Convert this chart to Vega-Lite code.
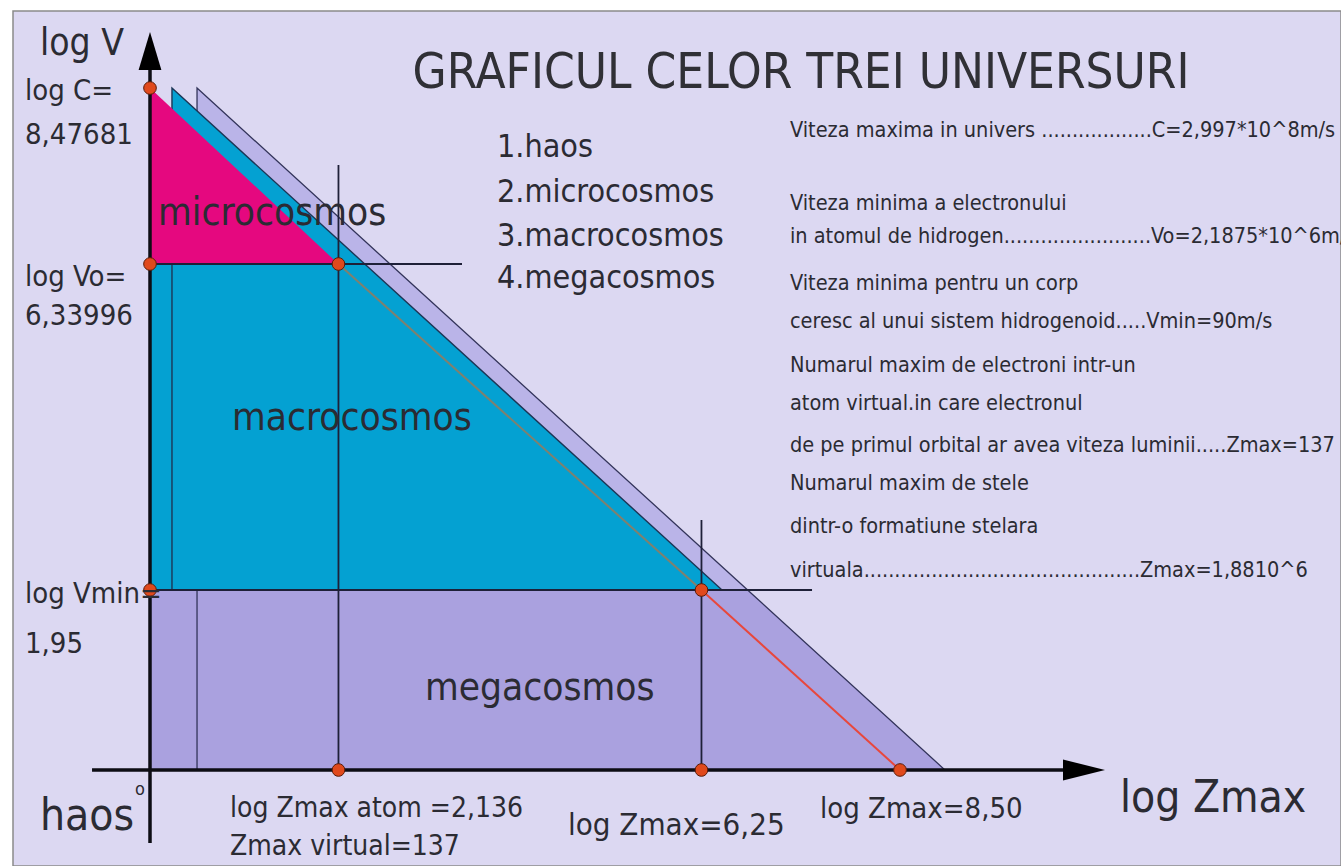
{
  "$schema": "https://vega.github.io/schema/vega-lite/v6.json",
  "width": 1328,
  "height": 855,
  "autosize": {"type": "none"},
  "padding": {"left": 13, "top": 11, "right": 0, "bottom": 0},
  "background": "#ffffff",
  "config": {
    "view": {"fill": "#dcd8f2", "stroke": "#8a8a8a", "strokeWidth": 1.5},
    "text": {"font": "DejaVu Sans Condensed, sans-serif", "color": "#2b2b33", "align": "left", "baseline": "alphabetic"}
  },
  "datasets": {
    "back": [
      {"x": 0.533, "y": 8.47681, "y2": 0},
      {"x": 2.72, "y": 6.33996, "y2": 0},
      {"x": 6.773, "y": 1.95, "y2": 0},
      {"x": 9.01, "y": 0, "y2": 0}
    ],
    "lower": [
      {"x": 0, "y": 1.95, "y2": 0},
      {"x": 6.773, "y": 1.95, "y2": 0},
      {"x": 9.01, "y": 0, "y2": 0}
    ],
    "cyan": [
      {"x": 0.249, "y": 8.47681, "y2": 1.95},
      {"x": 2.434, "y": 6.33996, "y2": 1.95},
      {"x": 6.483, "y": 1.95, "y2": 1.95}
    ],
    "cyanBand": [{"x": 0, "x2": 0.249, "y": 6.33996, "y2": 1.95}],
    "pink": [
      {"x": 0, "y": 8.47681, "y2": 6.33996},
      {"x": 2.136, "y": 6.33996, "y2": 6.33996}
    ],
    "diagGray": [{"x": 2.136, "y": 6.33996}, {"x": 6.25, "y": 1.95}],
    "diagRed": [{"x": 6.25, "y": 1.95}, {"x": 8.5, "y": 0}],
    "guides": [
      {"x": 0, "x2": 3.536, "y": 6.33996, "y2": 6.33996},
      {"x": 0, "x2": 7.503, "y": 1.95, "y2": 1.95},
      {"x": 2.136, "x2": 2.136, "y": 0, "y2": 7.542},
      {"x": 6.25, "x2": 6.25, "y": 0, "y2": 2.893}
    ],
    "axes": [
      {"x": 0, "x2": 0, "y": -0.791, "y2": 8.938},
      {"x": -0.657, "x2": 10.427, "y": 0, "y2": 0}
    ],
    "arrowUp": [{"x": 0, "y": 8.926}],
    "arrowRight": [{"x": 10.585, "y": 0}],
    "dots": [
      {"x": 0, "y": 8.47681},
      {"x": 0, "y": 6.33996},
      {"x": 2.136, "y": 6.33996},
      {"x": 0, "y": 1.95},
      {"x": 6.25, "y": 1.95},
      {"x": 2.136, "y": 0},
      {"x": 6.25, "y": 0},
      {"x": 8.5, "y": 0}
    ],
    "title": [{"t": "GRAFICUL CELOR TREI UNIVERSURI", "x": 7.378, "y": 8.47681}],
    "logV": [{"t": "log V", "x": -1.247, "y": 8.878}],
    "yLabels": [
      {"t": "log C=", "x": -1.417, "y": 8.331},
      {"t": "8,47681", "x": -1.417, "y": 7.797},
      {"t": "log Vo=", "x": -1.417, "y": 6.044},
      {"t": "6,33996", "x": -1.417, "y": 5.518},
      {"t": "log Vmin=", "x": -1.417, "y": 1.809},
      {"t": "1,95", "x": -1.417, "y": 1.268}
    ],
    "haos": [{"t": "haos", "x": -1.247, "y": -0.65}],
    "deg": [{"t": "o", "x": -0.17, "y": -0.271}],
    "atom": [
      {"t": "log Zmax atom =2,136", "x": 0.907, "y": -0.509},
      {"t": "Zmax virtual=137", "x": 0.907, "y": -0.921}
    ],
    "z625": [{"t": "log Zmax=6,25", "x": 4.737, "y": -0.704}],
    "z850": [{"t": "log Zmax=8,50", "x": 7.593, "y": -0.52}],
    "zAxis": [{"t": "log Zmax", "x": 10.993, "y": -0.455}],
    "regions": [
      {"t": "microcosmos", "x": 0.091, "y": 6.813},
      {"t": "macrocosmos", "x": 0.929, "y": 4.105},
      {"t": "megacosmos", "x": 3.117, "y": 0.758}
    ],
    "list": [
      {"t": "1.haos", "x": 3.933, "y": 7.639},
      {"t": "2.microcosmos", "x": 3.933, "y": 7.093},
      {"t": "3.macrocosmos", "x": 3.933, "y": 6.558},
      {"t": "4.megacosmos", "x": 3.933, "y": 6.017}
    ],
    "notes": [
      {"t": "Viteza maxima in univers ..................C=2,997*10^8m/s", "x": 7.253, "y": 7.882},
      {"t": "Viteza minima a electronului", "x": 7.253, "y": 6.996},
      {"t": "in atomul de hidrogen........................Vo=2,1875*10^6m/s", "x": 7.253, "y": 6.595},
      {"t": "Viteza minima pentru un corp", "x": 7.253, "y": 5.99},
      {"t": "ceresc al unui sistem hidrogenoid.....Vmin=90m/s", "x": 7.253, "y": 5.478},
      {"t": "Numarul maxim de electroni intr-un", "x": 7.253, "y": 4.886},
      {"t": " atom virtual.in care electronul", "x": 7.253, "y": 4.374},
      {"t": "de pe primul orbital ar avea viteza luminii.....Zmax=137", "x": 7.253, "y": 3.808},
      {"t": "Numarul maxim de stele", "x": 7.253, "y": 3.297},
      {"t": "dintr-o formatiune stelara", "x": 7.253, "y": 2.718},
      {"t": "virtuala.............................................Zmax=1,8810^6", "x": 7.253, "y": 2.125}
    ]
  },
  "encoding": {
    "x": {"field": "x", "type": "quantitative", "axis": null,
          "scale": {"domain": [0, 8.5], "range": [137, 887], "nice": false, "zero": false}},
    "y": {"field": "y", "type": "quantitative", "axis": null,
          "scale": {"domain": [0, 1.95, 6.33996, 8.47681], "range": [759, 579, 253, 77], "nice": false, "zero": false}}
  },
  "layer": [
    {"data": {"name": "back"}, "mark": {"type": "area", "orient": "vertical", "fill": "#bab4e8", "strokeWidth": 0},
     "encoding": {"y2": {"field": "y2"}}},
    {"data": {"name": "lower"}, "mark": {"type": "area", "orient": "vertical", "fill": "#aaa1df", "strokeWidth": 0},
     "encoding": {"y2": {"field": "y2"}}},
    {"data": {"name": "back"}, "mark": {"type": "area", "orient": "vertical", "fillOpacity": 0, "stroke": "#33345a", "strokeWidth": 1.3},
     "encoding": {"y2": {"field": "y2"}}},
    {"data": {"name": "cyanBand"}, "mark": {"type": "rect", "fill": "#04a1d2", "strokeWidth": 0},
     "encoding": {"x2": {"field": "x2"}, "y2": {"field": "y2"}}},
    {"data": {"name": "cyan"}, "mark": {"type": "area", "orient": "vertical", "fill": "#04a1d2", "stroke": "#1c3656", "strokeWidth": 1.4},
     "encoding": {"y2": {"field": "y2"}}},
    {"data": {"name": "pink"}, "mark": {"type": "area", "orient": "vertical", "fill": "#e5087f", "strokeWidth": 0},
     "encoding": {"y2": {"field": "y2"}}},
    {"data": {"name": "diagGray"}, "mark": {"type": "line", "stroke": "#80806e", "strokeWidth": 2}},
    {"data": {"name": "diagRed"}, "mark": {"type": "line", "stroke": "#e8473c", "strokeWidth": 2}},
    {"data": {"name": "guides"}, "mark": {"type": "rule", "stroke": "#1e2038", "strokeWidth": 1.8},
     "encoding": {"x2": {"field": "x2"}, "y2": {"field": "y2"}}},
    {"data": {"name": "axes"}, "mark": {"type": "rule", "stroke": "#0d0d14", "strokeWidth": 3.5},
     "encoding": {"x2": {"field": "x2"}, "y2": {"field": "y2"}}},
    {"data": {"name": "arrowUp"}, "mark": {"type": "point", "shape": "M0,-1L0.6,1L-0.6,1Z", "size": 1444, "filled": true, "fill": "#000000", "strokeWidth": 0, "opacity": 1}},
    {"data": {"name": "arrowRight"}, "mark": {"type": "point", "shape": "M1,0L-1,-0.5L-1,0.5Z", "size": 1764, "filled": true, "fill": "#000000", "strokeWidth": 0, "opacity": 1}},
    {"data": {"name": "dots"}, "mark": {"type": "point", "shape": "circle", "size": 160, "filled": true, "fill": "#e0491c", "stroke": "#5a1c08", "strokeWidth": 1, "opacity": 1}},
    {"data": {"name": "title"}, "mark": {"type": "text", "fontSize": 49, "align": "center", "color": "#303036"}, "encoding": {"text": {"field": "t"}}},
    {"data": {"name": "logV"}, "mark": {"type": "text", "fontSize": 37}, "encoding": {"text": {"field": "t"}}},
    {"data": {"name": "yLabels"}, "mark": {"type": "text", "fontSize": 29}, "encoding": {"text": {"field": "t"}}},
    {"data": {"name": "haos"}, "mark": {"type": "text", "fontSize": 44}, "encoding": {"text": {"field": "t"}}},
    {"data": {"name": "deg"}, "mark": {"type": "text", "fontSize": 18}, "encoding": {"text": {"field": "t"}}},
    {"data": {"name": "atom"}, "mark": {"type": "text", "fontSize": 28}, "encoding": {"text": {"field": "t"}}},
    {"data": {"name": "z625"}, "mark": {"type": "text", "fontSize": 31}, "encoding": {"text": {"field": "t"}}},
    {"data": {"name": "z850"}, "mark": {"type": "text", "fontSize": 29}, "encoding": {"text": {"field": "t"}}},
    {"data": {"name": "zAxis"}, "mark": {"type": "text", "fontSize": 44}, "encoding": {"text": {"field": "t"}}},
    {"data": {"name": "regions"}, "mark": {"type": "text", "fontSize": 38.5}, "encoding": {"text": {"field": "t"}}},
    {"data": {"name": "list"}, "mark": {"type": "text", "fontSize": 32}, "encoding": {"text": {"field": "t"}}},
    {"data": {"name": "notes"}, "mark": {"type": "text", "fontSize": 21.5}, "encoding": {"text": {"field": "t"}}}
  ]
}
